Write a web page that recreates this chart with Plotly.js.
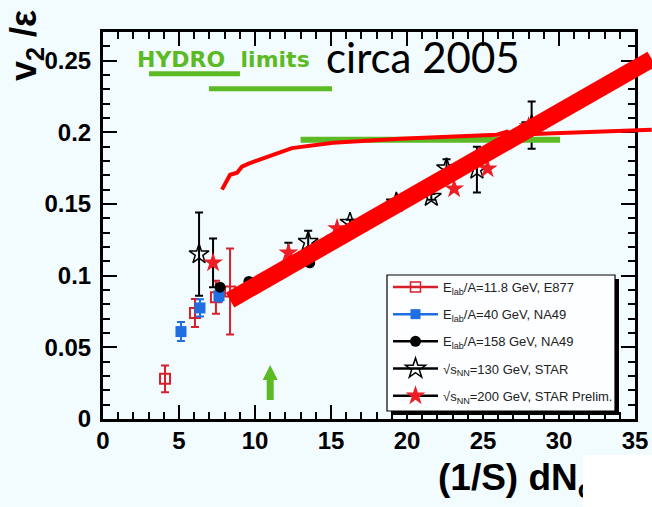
<!DOCTYPE html>
<html><head><meta charset="utf-8">
<script src="https://cdn.plot.ly/plotly-3.0.1.min.js"></script>
<style>html,body{margin:0;padding:0;background:#f2fbfe}</style>
</head><body><div id="chart" style="width:652px;height:507px"></div>
<script>
// ---- data ----
const e877X = [4.08, 6.05, 7.43, 8.36];
const e877Y = [0.028, 0.074, 0.085, 0.089];
const e877Err = [0.0094, 0.0098, 0.0115, 0.030];

const na49lowX = [5.13, 6.38, 7.63];
const na49lowY = [0.061, 0.0775, 0.086];
const na49lowErr = [0.0066, 0.006, 0.004];

const na49highX = [7.7, 9.6, 13.6, 14.9];
const na49highY = [0.092, 0.096, 0.109, 0.125];

const star130X = [6.32, 13.5, 16.25, 19.3, 21.6, 22.6, 24.6, 28.2];
const star130Y = [0.115, 0.1236, 0.137, 0.151, 0.155, 0.175, 0.174, 0.205];
const star130Err = [0.029, 0.0077, 0.002, 0.002, 0.002, 0.0063, 0.016, 0.0165];

const star200X = [7.24, 12.2, 15.4, 23.1, 25.3, 28.0];
const star200Y = [0.109, 0.116, 0.133, 0.1606, 0.1746, 0.204];
const star200Err = [0.017, 0.007, 0, 0, 0, 0];

const hydroCurveX = [7.83, 8.36, 8.82, 9.14, 9.54, 12.43, 15.13, 19.54, 25.92, 26.58, 26.97, 36.1];
const hydroCurveY = [0.160, 0.1704, 0.1718, 0.176, 0.178, 0.189, 0.1927, 0.1955, 0.1983, 0.2004, 0.1983, 0.2018];

const fitLineX = [8.36, 36.1];
const fitLineY = [0.083, 0.2511];

const limitA_X = [3.03, 9.01], limitA_Y = 0.2409;
const limitB_X = [6.97, 15.07], limitB_Y = 0.2304;
const limitC_X = [13.0, 30.07], limitC_Y = 0.1948;

const arrowX = 11, arrowY = [0.0133, 0.0377];

const legendNames = [
  'E<sub>lab</sub>/A=11.8 GeV, E877',
  'E<sub>lab</sub>/A=40 GeV, NA49',
  'E<sub>lab</sub>/A=158 GeV, NA49',
  '√s<sub>NN</sub>=130 GeV, STAR',
  '√s<sub>NN</sub>=200 GeV, STAR Prelim.'
];

// ---- styling ----
const XR = [0, 35], YR = [0, 0.27];
const W = 652 - 103 - 17, H = 507 - 32 - 88;
const toPX = x => (x - XR[0]) / (XR[1] - XR[0]);
const toPY = y => (y - YR[0]) / (YR[1] - YR[0]);
const pxX = p => p / W;          // pixel -> paper
const pxY = p => p / H;
const RED = '#ff0000', DRED = '#d8202a', BLUE = '#1f6fe3', GREEN = '#5cba24', BG = '#f2fbfe';
const FONT = 'Liberation Sans, Arial, sans-serif';

function pathFrom(xs, ys) {
  return 'M' + xs.map((x, i) => toPX(x) + ',' + toPY(ys[i])).join('L');
}

const errStyle = (arr, c) => ({type: 'data', array: arr, visible: true, color: c, thickness: 2, width: 4});

const traces = [
  {x: e877X, y: e877Y, mode: 'markers', showlegend: false, error_y: errStyle(e877Err, DRED),
   marker: {symbol: 'square-open', size: 10, color: DRED, line: {width: 2, color: DRED}}},
  {x: na49lowX, y: na49lowY, mode: 'markers', showlegend: false, error_y: errStyle(na49lowErr, BLUE),
   marker: {symbol: 'square', size: 11, color: BLUE}},
  {x: na49highX, y: na49highY, mode: 'markers', showlegend: false,
   marker: {symbol: 'circle', size: 11, color: '#000'}},
  {x: star130X, y: star130Y, mode: 'markers', showlegend: false, error_y: errStyle(star130Err, '#000'),
   marker: {symbol: 'star-open', size: 15, color: '#000', line: {width: 1.5, color: '#000'}}},
  {x: star200X, y: star200Y, mode: 'markers', showlegend: false, error_y: errStyle(star200Err, '#000'),
   marker: {symbol: 'star', size: 15, color: '#ee1c25', line: {width: 0}}}
];
const legSpec = [
  {c: DRED, m: {symbol: 'square-open', size: 10, color: DRED, line: {width: 1.5, color: DRED}}},
  {c: BLUE, m: {symbol: 'square', size: 10, color: BLUE}},
  {c: '#000', m: {symbol: 'circle', size: 11, color: '#000'}},
  {c: '#000', m: {symbol: 'star-open', size: 15, color: '#000', line: {width: 1.5, color: '#000'}}},
  {c: '#000', m: {symbol: 'star', size: 15, color: '#ee1c25', line: {width: 0}}}
];
legSpec.forEach((s, i) => traces.push({
  x: [null], y: [null], mode: 'lines+markers', name: legendNames[i], legendgroup: 'g' + i,
  line: {color: s.c, width: 2.5}, marker: s.m
}));

// legend box (pixels relative to plot area)
const boxL = 387 - 103, boxR = 615 - 103, boxT = 275 - 32, boxB = 411 - 32;
const shapes = [
  // hydro limit bars
  {type: 'line', xref: 'x', yref: 'y', x0: limitA_X[0], x1: limitA_X[1], y0: limitA_Y, y1: limitA_Y, line: {color: GREEN, width: 5}},
  {type: 'line', xref: 'x', yref: 'y', x0: limitB_X[0], x1: limitB_X[1], y0: limitB_Y, y1: limitB_Y, line: {color: GREEN, width: 5}},
  {type: 'line', xref: 'x', yref: 'y', x0: limitC_X[0], x1: limitC_X[1], y0: limitC_Y, y1: limitC_Y, line: {color: GREEN, width: 6}},
  // hydro curve
  {type: 'path', xref: 'paper', yref: 'paper', path: pathFrom(hydroCurveX, hydroCurveY), line: {color: RED, width: 4}},
  // thick line
  {type: 'path', xref: 'paper', yref: 'paper', path: pathFrom(fitLineX, fitLineY), line: {color: RED, width: 17}},
  // legend shadow + box
  {type: 'rect', xref: 'paper', yref: 'paper', x0: pxX(boxL + 4), x1: pxX(boxR + 4), y0: 1 - pxY(boxB + 4), y1: 1 - pxY(boxT + 4), fillcolor: '#000', line: {width: 0}},
  {type: 'rect', xref: 'paper', yref: 'paper', x0: pxX(boxL), x1: pxX(boxR), y0: 1 - pxY(boxB), y1: 1 - pxY(boxT), fillcolor: '#fcfeff', line: {color: '#000', width: 1.2}}
];
// arrow
(function () {
  const dx = 1 / (W / (XR[1] - XR[0]));  // data units per pixel x
  const dy = 1 / (H / (YR[1] - YR[0]));
  const hw = 3.5 * dx, hh = 7.5 * dx, base = arrowY[1] - 15 * dy;
  const pts = [[arrowX - hw, arrowY[0]], [arrowX + hw, arrowY[0]], [arrowX + hw, base], [arrowX + hh, base],
    [arrowX, arrowY[1]], [arrowX - hh, base], [arrowX - hw, base]];
  shapes.push({type: 'path', xref: 'x', yref: 'y', path: 'M' + pts.map(p => p[0] + ',' + p[1]).join('L') + 'Z',
    fillcolor: GREEN, line: {width: 0}});
})();

const axisCommon = {
  ticks: 'inside', ticklen: 14, tickwidth: 2, tickcolor: '#000',
  showline: true, linewidth: 3, linecolor: '#000', mirror: 'ticks',
  showgrid: false, zeroline: false,
  tickfont: {family: FONT, size: 24, color: '#000', weight: 'bold'},
  minor: {ticks: 'inside', ticklen: 7, tickwidth: 2, tickcolor: '#000', showgrid: false}
};

const layout = {
  width: 652, height: 507,
  margin: {l: 103, r: 17, t: 32, b: 88},
  paper_bgcolor: BG, plot_bgcolor: BG,
  xaxis: Object.assign({}, axisCommon, {range: XR, dtick: 5, tick0: 0, ticklabelstandoff: -2,
    minor: Object.assign({}, axisCommon.minor, {dtick: 1})}),
  yaxis: Object.assign({}, axisCommon, {range: YR, dtick: 0.05, tick0: 0, ticklabelstandoff: 4,
    minor: Object.assign({}, axisCommon.minor, {dtick: 0.01})}),
  showlegend: true,
  legend: {x: pxX(boxL + 1), y: 1 - pxY(boxT - 3), xanchor: 'left', yanchor: 'top',
    bgcolor: 'rgba(0,0,0,0)', borderwidth: 0, itemwidth: 45, tracegroupgap: 7.3,
    font: {family: FONT, size: 13, color: '#222'}},
  shapes: shapes,
  annotations: [
    {xref: 'paper', yref: 'paper', x: pxX(135 - 103), y: 1 - pxY(60 - 32), xanchor: 'left', yanchor: 'middle',
     text: 'HYDRO\u00a0\u00a0limits', showarrow: false,
     font: {family: 'DejaVu Sans, sans-serif', size: 22, color: GREEN, weight: 'bold'}},
    {xref: 'paper', yref: 'paper', x: pxX(324 - 103), y: 1 - pxY(57 - 32), xanchor: 'left', yanchor: 'middle',
     text: 'circa 2005', showarrow: false, font: {family: 'Lato, sans-serif', size: 42, color: '#000'}},
    {xref: 'paper', yref: 'paper', x: pxX(26 - 103), y: 1 - pxY(46 - 32), xanchor: 'center', yanchor: 'middle',
     text: 'v<sub>2</sub> /ε', textangle: -90, showarrow: false,
     font: {family: FONT, size: 36, color: '#000', weight: 'bold'}},
    {xref: 'paper', yref: 'paper', x: pxX(436 - 103), y: 1 - pxY(480 - 32), xanchor: 'left', yanchor: 'middle',
     text: '(1/S) dN<sub>c</sub>', showarrow: false,
     font: {family: FONT, size: 37, color: '#000', weight: 'bold'}},
    {xref: 'paper', yref: 'paper', x: pxX(583 - 103), y: 1 - pxY(455 - 32), xanchor: 'left', yanchor: 'top',
     text: ' ', showarrow: false, width: 69, height: 52, bgcolor: '#ffffff', borderpad: 0, borderwidth: 0}
  ]
};

Plotly.newPlot('chart', traces, layout, {displayModeBar: false, staticPlot: true});
</script>
</body></html>
